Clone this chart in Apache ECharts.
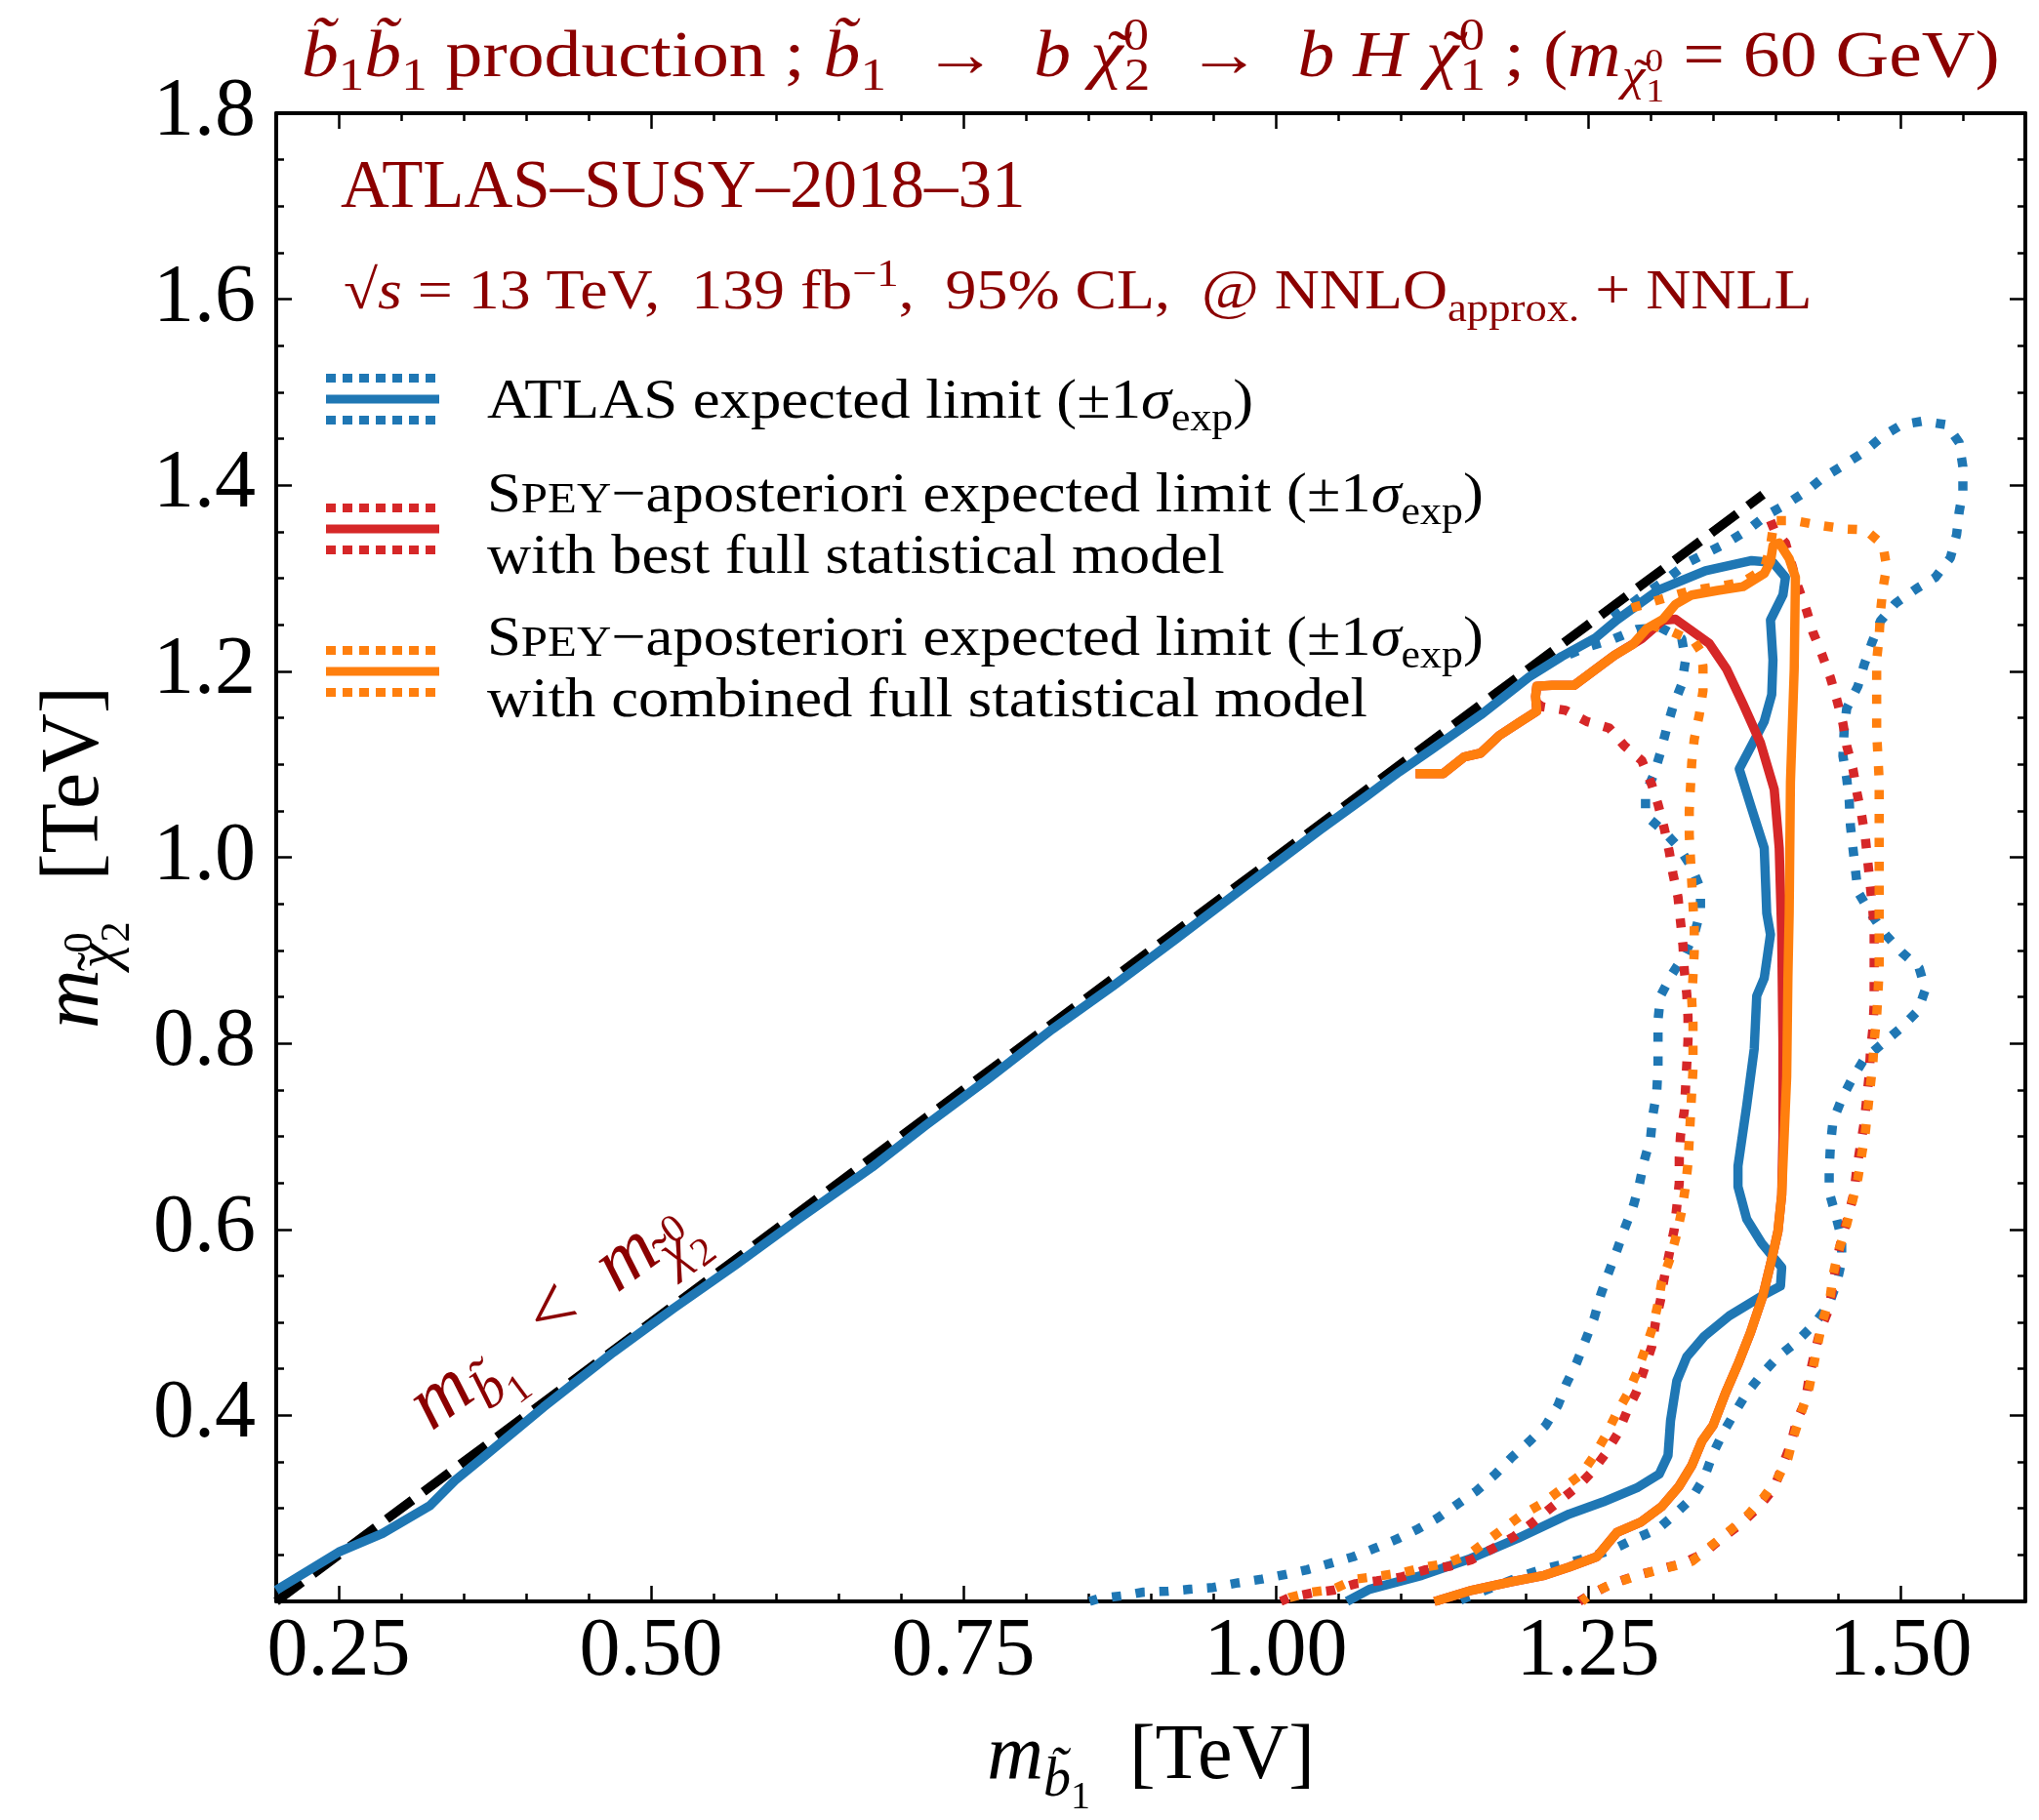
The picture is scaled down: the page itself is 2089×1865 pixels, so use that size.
<!DOCTYPE html>
<html><head><meta charset="utf-8">
<script src="https://cdn.jsdelivr.net/npm/echarts@6/dist/echarts.min.js"></script>
<style>html,body{margin:0;padding:0;background:#fff}#c{width:2089px;height:1865px}</style>
</head><body><div id="c"></div><script>
// ---------------- data (TeV) ----------------
const xMajorTicks = [0.25, 0.50, 0.75, 1.00, 1.25, 1.50];
const kinematicLine = [[0.2, 0.2], [1.39, 1.39]];
const atlasExp = [[0.200,0.212],[0.25,0.253],[0.285,0.273],[0.323,0.303],[0.343,0.330],[0.363,0.352],[0.414,0.409],[0.470,0.468],[0.518,0.515],[0.568,0.562],[0.618,0.611],[0.677,0.667],[0.72,0.712],[0.77,0.762],[0.821,0.815],[0.87,0.862],[0.92,0.912],[0.97,0.963],[1.036,1.030],[1.073,1.066],[1.099,1.092],[1.125,1.116],[1.164,1.153],[1.203,1.194],[1.229,1.216],[1.256,1.236],[1.273,1.255],[1.306,1.287],[1.344,1.308],[1.381,1.319],[1.398,1.317],[1.408,1.301],[1.406,1.282],[1.396,1.255],[1.398,1.212],[1.397,1.175],[1.391,1.146],[1.371,1.095],[1.381,1.052],[1.391,1.010],[1.393,0.940],[1.396,0.917],[1.391,0.870],[1.385,0.851],[1.383,0.794],[1.377,0.733],[1.370,0.668],[1.370,0.646],[1.377,0.611],[1.389,0.585],[1.405,0.559],[1.404,0.539],[1.390,0.529],[1.363,0.507],[1.343,0.485],[1.329,0.463],[1.321,0.437],[1.316,0.394],[1.314,0.357],[1.307,0.337],[1.289,0.322],[1.262,0.307],[1.235,0.294],[1.194,0.268],[1.154,0.245],[1.117,0.228],[1.075,0.213],[1.057,0.200]];
const atlasExpMinus = [[1.27,1.258],[1.29,1.278],[1.310,1.296],[1.330,1.317],[1.361,1.338],[1.378,1.352],[1.393,1.368],[1.408,1.379],[1.425,1.394],[1.438,1.408],[1.455,1.422],[1.471,1.436],[1.486,1.453],[1.501,1.465],[1.518,1.469],[1.537,1.465],[1.547,1.446],[1.550,1.420],[1.550,1.394],[1.547,1.371],[1.545,1.347],[1.540,1.322],[1.528,1.301],[1.513,1.289],[1.496,1.273],[1.484,1.254],[1.477,1.230],[1.471,1.207],[1.466,1.184],[1.457,1.160],[1.455,1.137],[1.454,1.109],[1.457,1.085],[1.459,1.062],[1.460,1.034],[1.462,1.010],[1.466,0.963],[1.476,0.940],[1.488,0.917],[1.501,0.898],[1.515,0.881],[1.520,0.858],[1.514,0.835],[1.500,0.816],[1.485,0.799],[1.471,0.783],[1.461,0.761],[1.453,0.740],[1.446,0.716],[1.444,0.690],[1.443,0.664],[1.443,0.640],[1.448,0.616],[1.453,0.590],[1.453,0.566],[1.449,0.542],[1.443,0.520],[1.431,0.498],[1.416,0.478],[1.402,0.463],[1.389,0.444],[1.377,0.424],[1.367,0.402],[1.358,0.381],[1.350,0.359],[1.343,0.333],[1.333,0.311],[1.319,0.293],[1.306,0.278],[1.287,0.267],[1.270,0.256],[1.252,0.248],[1.233,0.241],[1.215,0.235],[1.198,0.228],[1.181,0.219],[1.160,0.208],[1.145,0.200]];
const atlasExpPlus = [[1.235,1.218],[1.249,1.226],[1.271,1.235],[1.289,1.245],[1.308,1.247],[1.325,1.235],[1.328,1.212],[1.325,1.186],[1.318,1.162],[1.313,1.139],[1.308,1.113],[1.303,1.090],[1.296,1.069],[1.296,1.045],[1.310,1.029],[1.323,1.010],[1.333,0.989],[1.340,0.966],[1.340,0.942],[1.335,0.917],[1.327,0.895],[1.317,0.874],[1.308,0.851],[1.306,0.825],[1.306,0.799],[1.306,0.775],[1.305,0.748],[1.302,0.724],[1.300,0.698],[1.295,0.674],[1.291,0.648],[1.286,0.624],[1.279,0.600],[1.273,0.577],[1.266,0.552],[1.260,0.529],[1.255,0.505],[1.248,0.481],[1.241,0.457],[1.233,0.435],[1.226,0.411],[1.216,0.389],[1.203,0.372],[1.189,0.355],[1.176,0.337],[1.161,0.319],[1.146,0.305],[1.130,0.290],[1.114,0.278],[1.097,0.267],[1.079,0.257],[1.062,0.248],[1.044,0.241],[1.025,0.234],[1.008,0.229],[0.989,0.224],[0.970,0.220],[0.950,0.215],[0.931,0.213],[0.914,0.211],[0.894,0.210],[0.877,0.206],[0.858,0.203],[0.851,0.200]];
const speyBest = [[1.112,1.090],[1.134,1.090],[1.151,1.108],[1.164,1.112],[1.179,1.131],[1.195,1.145],[1.209,1.157],[1.208,1.173],[1.209,1.184],[1.221,1.185],[1.239,1.185],[1.255,1.201],[1.271,1.217],[1.293,1.235],[1.310,1.255],[1.320,1.256],[1.347,1.230],[1.361,1.202],[1.374,1.165],[1.388,1.123],[1.399,1.073],[1.403,1.010],[1.405,0.917],[1.406,0.800],[1.406,0.700],[1.405,0.637],[1.402,0.598],[1.397,0.568],[1.390,0.529],[1.380,0.489],[1.370,0.455],[1.360,0.424],[1.350,0.389],[1.341,0.372],[1.333,0.346],[1.323,0.324],[1.309,0.302],[1.292,0.285],[1.273,0.274],[1.257,0.248],[1.235,0.237],[1.215,0.228],[1.188,0.221],[1.157,0.212],[1.130,0.201],[1.127,0.200]];
const speyBestMinus = [[1.396,1.362],[1.399,1.352],[1.408,1.338],[1.413,1.315],[1.418,1.291],[1.425,1.265],[1.430,1.242],[1.437,1.219],[1.444,1.193],[1.449,1.170],[1.454,1.144],[1.457,1.120],[1.462,1.095],[1.465,1.071],[1.469,1.045],[1.472,1.020],[1.474,0.994],[1.476,0.968],[1.478,0.942],[1.479,0.919],[1.479,0.893],[1.479,0.867],[1.479,0.842],[1.478,0.816],[1.476,0.790],[1.475,0.766],[1.473,0.740],[1.471,0.714],[1.468,0.690],[1.465,0.664],[1.463,0.640],[1.458,0.613],[1.453,0.590],[1.449,0.566],[1.446,0.540],[1.443,0.515],[1.436,0.492],[1.431,0.465],[1.427,0.441],[1.424,0.415],[1.417,0.394],[1.412,0.368],[1.405,0.344],[1.399,0.322],[1.387,0.302],[1.372,0.283],[1.356,0.267],[1.343,0.252],[1.326,0.241],[1.309,0.235],[1.289,0.228],[1.269,0.219],[1.250,0.206],[1.243,0.200]];
const speyBestPlus = [[1.209,1.166],[1.213,1.162],[1.232,1.158],[1.249,1.146],[1.267,1.139],[1.279,1.120],[1.293,1.104],[1.301,1.078],[1.306,1.057],[1.311,1.031],[1.315,1.006],[1.318,0.982],[1.322,0.957],[1.324,0.931],[1.326,0.905],[1.327,0.879],[1.329,0.853],[1.330,0.828],[1.330,0.803],[1.329,0.777],[1.328,0.751],[1.327,0.727],[1.324,0.701],[1.323,0.677],[1.323,0.650],[1.321,0.624],[1.319,0.600],[1.315,0.574],[1.311,0.548],[1.308,0.524],[1.304,0.500],[1.301,0.474],[1.295,0.450],[1.289,0.426],[1.281,0.404],[1.274,0.381],[1.264,0.359],[1.253,0.339],[1.242,0.324],[1.228,0.309],[1.216,0.296],[1.204,0.283],[1.191,0.270],[1.174,0.257],[1.157,0.245],[1.140,0.238],[1.120,0.234],[1.100,0.226],[1.081,0.222],[1.064,0.219],[1.046,0.212],[1.029,0.209],[1.011,0.204],[1.004,0.200]];
const speyComb = [[1.112,1.090],[1.134,1.090],[1.151,1.108],[1.164,1.112],[1.179,1.131],[1.195,1.145],[1.209,1.157],[1.208,1.173],[1.209,1.184],[1.221,1.185],[1.239,1.185],[1.255,1.201],[1.271,1.217],[1.286,1.229],[1.297,1.246],[1.310,1.256],[1.320,1.272],[1.333,1.282],[1.354,1.287],[1.374,1.291],[1.391,1.305],[1.396,1.318],[1.398,1.335],[1.403,1.338],[1.411,1.321],[1.416,1.301],[1.415,1.202],[1.412,1.081],[1.411,0.940],[1.410,0.872],[1.409,0.764],[1.405,0.637],[1.402,0.598],[1.397,0.568],[1.390,0.529],[1.380,0.489],[1.370,0.455],[1.360,0.424],[1.350,0.389],[1.341,0.372],[1.333,0.346],[1.323,0.324],[1.309,0.302],[1.292,0.285],[1.273,0.274],[1.257,0.248],[1.235,0.237],[1.215,0.228],[1.188,0.221],[1.157,0.212],[1.130,0.201],[1.127,0.200]];
const speyCombMinus = [[1.285,1.268],[1.310,1.278],[1.333,1.287],[1.354,1.291],[1.374,1.296],[1.391,1.310],[1.396,1.335],[1.399,1.362],[1.415,1.362],[1.435,1.357],[1.456,1.353],[1.472,1.352],[1.486,1.336],[1.489,1.312],[1.486,1.289],[1.484,1.263],[1.483,1.237],[1.481,1.212],[1.481,1.186],[1.481,1.160],[1.481,1.134],[1.482,1.109],[1.483,1.083],[1.483,1.057],[1.483,1.031],[1.483,1.005],[1.483,0.982],[1.483,0.956],[1.483,0.931],[1.483,0.905],[1.483,0.879],[1.482,0.853],[1.481,0.829],[1.479,0.802],[1.478,0.779],[1.476,0.755],[1.474,0.730],[1.472,0.705],[1.469,0.680],[1.466,0.655],[1.461,0.627],[1.456,0.600],[1.450,0.575],[1.446,0.550],[1.444,0.529],[1.437,0.498],[1.431,0.457],[1.427,0.430],[1.420,0.400],[1.414,0.375],[1.410,0.354],[1.402,0.333],[1.390,0.311],[1.378,0.293],[1.360,0.272],[1.345,0.256],[1.333,0.243],[1.313,0.236],[1.290,0.228],[1.270,0.219],[1.253,0.209],[1.245,0.200]];
const speyCombPlus = [[1.300,1.250],[1.318,1.242],[1.335,1.232],[1.340,1.222],[1.342,1.205],[1.342,1.179],[1.339,1.153],[1.335,1.127],[1.333,1.102],[1.332,1.076],[1.331,1.050],[1.331,1.024],[1.332,0.999],[1.333,0.973],[1.334,0.949],[1.335,0.924],[1.335,0.898],[1.334,0.872],[1.333,0.846],[1.334,0.822],[1.334,0.798],[1.334,0.772],[1.333,0.748],[1.332,0.722],[1.331,0.696],[1.330,0.671],[1.328,0.646],[1.325,0.620],[1.321,0.595],[1.316,0.570],[1.309,0.544],[1.306,0.520],[1.302,0.496],[1.296,0.472],[1.289,0.446],[1.282,0.424],[1.272,0.400],[1.264,0.378],[1.255,0.357],[1.245,0.337],[1.230,0.322],[1.214,0.306],[1.196,0.292],[1.175,0.271],[1.154,0.250],[1.137,0.241],[1.120,0.237],[1.102,0.231],[1.081,0.227],[1.064,0.224],[1.046,0.213],[1.029,0.210],[1.011,0.204],[1.004,0.200]];

// ---------------- style ----------------
const SERIF = '"Liberation Serif","DejaVu Serif","Times New Roman",serif';
const DARK = '#8b0000';
const BLUE = '#1f77b4', RED = '#d62728', ORANGE = '#ff7f0e';
const BT = 'b\u0303';
const LW = 9.5;

function mk(F, L, color) {
  const base = {fontFamily: SERIF, color: color, fill: color, fontSize: F, lineHeight: L, verticalAlign: 'middle'};
  const Cm = L / 2;
  const sub = (size, center, extra) => Object.assign({}, base, {fontSize: size, verticalAlign: 'top', padding: [Math.max(0, center - size / 2), 0, 0, 0]}, extra || {});
  const sup = (size, center, extra) => Object.assign({}, base, {fontSize: size, verticalAlign: 'bottom', padding: [0, 0, Math.max(0, L - center - size / 2), 0]}, extra || {});
  const s = 0.7 * F, q = 0.5 * F;
  return {
    rm: base,
    it: Object.assign({}, base, {fontStyle: 'italic'}),
    tl: Object.assign({}, base, {width: 1}),                 // tilde accent drawn over the next glyph
    sc: sub(0.78 * F, Cm + 0.073 * F),
    sub: sub(s, Cm + 0.30 * F),
    subit: sub(s, Cm + 0.30 * F, {fontStyle: 'italic'}),
    subtl: sub(s, Cm + 0.30 * F, {width: 1}),
    sup: sup(s, Cm - 0.32 * F),
    supz: sup(s, Cm - 0.32 * F, {width: 1}),
    ssub: sub(q, Cm + 0.515 * F),
    ssupz: sup(q, Cm + 0.06 * F, {width: 1})
  };
}
// chi-tilde as text: accent token (zero advance) followed by italic chi
const CHI_MAIN = '{tl| \u02dc}{it|\u03c7}';
const CHI_SUB = '{subtl| \u02dc}{subit|\u03c7}';

const TITLE = '{it|' + BT + '}{sub|1}{it|' + BT + '}{sub|1}{rm| production ; }{it|' + BT + '}{sub|1}{rm|  \u2192  }{it|b }' + CHI_MAIN + '{supz|0}{sub|2}{rm|  \u2192  }{it|b H }' + CHI_MAIN + '{supz|0}{sub|1}{rm| ; (}{it|m}' + CHI_SUB + '{ssupz|0}{ssub|1}{rm| = 60 GeV)}';
const ANALYSIS = '{rm|ATLAS\u2013SUSY\u20132018\u201331}';
const CONDITIONS = '{rm|\u221a}{it|s}{rm| = 13 TeV,  139 fb}{sup|\u22121}{rm|,  95% CL,  @ NNLO}{sub|approx.}{rm| + NNLL}';
const LEG1 = '{rm|ATLAS expected limit (\u00b11}{it|\u03c3}{sub|exp}{rm|)}';
const LEG2 = '{rm|S}{sc|PEY}{rm|\u2212aposteriori expected limit (\u00b11}{it|\u03c3}{sub|exp}{rm|)}\n{rm|with best full statistical model}';
const LEG3 = '{rm|S}{sc|PEY}{rm|\u2212aposteriori expected limit (\u00b11}{it|\u03c3}{sub|exp}{rm|)}\n{rm|with combined full statistical model}';
const DIAG = '{it|m}{subit|' + BT + '}{ssub|1}{rm|  <  }{it|m}' + CHI_SUB + '{ssupz|0}{ssub|2}';
const XNAME = '{it|m}{subit|' + BT + '}{ssub|1}{rm|  [TeV]}';
const YNAME = '{it|m}' + CHI_SUB + '{ssupz|0}{ssub|2}{rm|  [TeV]}';

const legendRows = [
  {color: BLUE, y: 409},
  {color: RED, y: 542},
  {color: ORANGE, y: 688}
];

const chart = echarts.init(document.getElementById('c'), null, {renderer: 'canvas'});

function lineSeries(data, color, dotted, z) {
  return {type: 'line', data: data, showSymbol: false, symbol: 'none', silent: true, z: z,
    xAxisIndex: 0, yAxisIndex: 0, animation: false,
    lineStyle: {color: color, width: LW, type: dotted ? [9.5, 15] : 'solid', cap: 'butt', join: 'round'}};
}

const axisLineStyle = {color: '#000', width: 4};
const tickStyle = {color: '#000', width: 2.5};
const xBase = {type: 'value', min: 0.2, max: 1.6, splitLine: {show: false}};

const legendGraphics = [];
legendRows.forEach(r => {
  [-21.5, 0, 21.5].forEach(dy => {
    legendGraphics.push({type: 'line', silent: true, shape: {x1: 334, y1: r.y + dy, x2: 450, y2: r.y + dy},
      style: {stroke: r.color, lineWidth: 9, lineDash: dy === 0 ? null : [10, 7]}});
  });
});

const option = {
  animation: false,
  backgroundColor: '#fff',
  grid: {left: 283, top: 116, width: 1792, height: 1525, containLabel: false, outerBoundsMode: 'none'},
  xAxis: [
    Object.assign({}, xBase, {position: 'bottom', interval: 0.05,
      axisLine: {show: true, onZero: false, lineStyle: axisLineStyle},
      axisTick: {show: true, inside: true, length: 8, lineStyle: tickStyle},
      axisLabel: {show: false},
      name: XNAME, nameLocation: 'middle', nameGap: 104,
      nameTextStyle: {fontFamily: SERIF, fontSize: 80, color: '#000', rich: mk(80, 112, '#000')}}),
    Object.assign({}, xBase, {position: 'bottom',
      axisLine: {show: false},
      axisTick: {show: true, inside: true, length: 16, lineStyle: tickStyle, customValues: xMajorTicks},
      axisLabel: {show: true, customValues: xMajorTicks, formatter: v => v.toFixed(2), fontFamily: SERIF, fontSize: 84, lineHeight: 84, color: '#000', margin: 11}}),
    Object.assign({}, xBase, {position: 'top', interval: 0.05,
      axisLine: {show: true, onZero: false, lineStyle: axisLineStyle},
      axisTick: {show: true, inside: true, length: 8, lineStyle: tickStyle},
      axisLabel: {show: false}}),
    Object.assign({}, xBase, {position: 'top',
      axisLine: {show: false},
      axisTick: {show: true, inside: true, length: 16, lineStyle: tickStyle, customValues: xMajorTicks},
      axisLabel: {show: false, customValues: xMajorTicks}})
  ],
  yAxis: [
    {type: 'value', min: 0.2, max: 1.8, interval: 0.2, position: 'left', splitLine: {show: false},
      axisLine: {show: true, onZero: false, lineStyle: axisLineStyle},
      axisTick: {show: true, inside: true, length: 16, lineStyle: tickStyle},
      minorTick: {show: true, splitNumber: 4, length: 8, lineStyle: tickStyle},
      axisLabel: {formatter: v => (v < 0.3 ? '' : v.toFixed(1)), fontFamily: SERIF, fontSize: 84, color: '#000', margin: 21},
      name: YNAME, nameLocation: 'middle', nameGap: 149,
      nameTextStyle: {fontFamily: SERIF, fontSize: 84, color: '#000', rich: mk(84, 112, '#000')}},
    {type: 'value', min: 0.2, max: 1.8, interval: 0.2, position: 'right', splitLine: {show: false},
      axisLine: {show: true, onZero: false, lineStyle: axisLineStyle},
      axisTick: {show: true, inside: true, length: 16, lineStyle: tickStyle},
      minorTick: {show: true, splitNumber: 4, length: 8, lineStyle: tickStyle},
      axisLabel: {show: false}}
  ],
  series: [
    {type: 'line', data: kinematicLine, showSymbol: false, symbol: 'none', silent: true, z: 1,
      lineStyle: {color: '#000', width: LW, type: [33, 14], cap: 'butt'}},
    lineSeries(atlasExpMinus, BLUE, true, 2),
    lineSeries(atlasExpPlus, BLUE, true, 2),
    lineSeries(atlasExp, BLUE, false, 2),
    lineSeries(speyBestMinus, RED, true, 3),
    lineSeries(speyBestPlus, RED, true, 3),
    lineSeries(speyBest, RED, false, 3),
    lineSeries(speyCombMinus, ORANGE, true, 4),
    lineSeries(speyCombPlus, ORANGE, true, 4),
    lineSeries(speyComb, ORANGE, false, 4)
  ],
  graphic: [
    {type: 'text', silent: true, x: 309, y: 15, scaleX: 1.13, style: {text: TITLE, rich: mk(67, 90, DARK), align: 'left', verticalAlign: 'top', fill: DARK}},
    {type: 'text', silent: true, x: 349, y: 153, style: {text: ANALYSIS, rich: mk(69, 82, DARK), align: 'left', verticalAlign: 'top', fill: DARK}},
    {type: 'text', silent: true, x: 352, y: 263, scaleX: 1.12, style: {text: CONDITIONS, rich: mk(57, 76, DARK), align: 'left', verticalAlign: 'top', fill: DARK}},
    {type: 'text', silent: true, x: 499, y: 382, scaleX: 1.10, style: {text: LEG1, rich: mk(57, 63, '#000'), align: 'left', verticalAlign: 'top'}},
    {type: 'text', silent: true, x: 499, y: 478, scaleX: 1.10, style: {text: LEG2, rich: mk(57, 63, '#000'), align: 'left', verticalAlign: 'top'}},
    {type: 'text', silent: true, x: 499, y: 625, scaleX: 1.10, style: {text: LEG3, rich: mk(57, 63, '#000'), align: 'left', verticalAlign: 'top'}},
    {type: 'text', silent: true, x: 567, y: 1347, rotation: 0.6401, style: {text: DIAG, rich: mk(82, 104, DARK), align: 'center', verticalAlign: 'middle', fill: DARK}}
  ].concat(legendGraphics)
};
chart.setOption(option);
</script></body></html>
